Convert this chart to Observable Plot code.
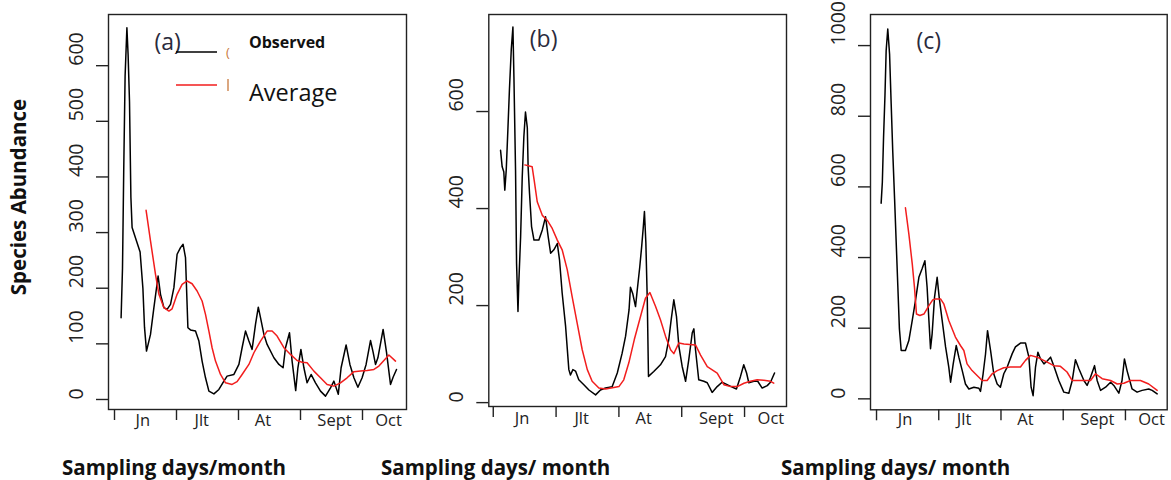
<!DOCTYPE html>
<html>
<head>
<meta charset="utf-8">
<script src="https://cdn.jsdelivr.net/npm/d3@7"></script>
<script src="https://cdn.jsdelivr.net/npm/@observablehq/plot@0.6"></script>
<style>
  body { margin: 0; background: #fff; }
  #wrap { position: relative; width: 1171px; height: 480px; overflow: hidden; font-family: "Open Sans", sans-serif; color: #111; }
  .panel { position: absolute; top: 0; }
  .xt { position: absolute; top: 457px; font-weight: bold; font-size: 20.5px; line-height: 21px; white-space: nowrap; }
  #yt { position: absolute; left: 18px; top: 197px; transform: translate(-50%, -50%) rotate(-90deg); font-weight: bold; font-size: 20.5px; white-space: nowrap; }
  #legend { position: absolute; left: 0; top: 0; }
</style>
</head>
<body>
<div id="wrap">
  <div id="yt">Species Abundance</div>
  <div class="panel" id="pa" style="left:50px"></div>
  <div class="panel" id="pb" style="left:430px"></div>
  <div class="panel" id="pc" style="left:812px"></div>
  <svg id="legend" width="420" height="120" font-family="'Open Sans', sans-serif">
    <line x1="176" y1="52" x2="217" y2="52" stroke="#000" stroke-width="1.5"/>
    <line x1="176" y1="85" x2="217" y2="85" stroke="#f21d1d" stroke-width="1.5"/>
    <text x="226" y="57" font-size="13" fill="#c8783c">(</text>
    <line x1="228" y1="79" x2="228" y2="91" stroke="#c8783c" stroke-width="1.3"/>
    <text x="249" y="48" font-size="16" font-weight="bold" fill="#111">Observed</text>
    <text x="249" y="101" font-size="23.5" fill="#111">Average</text>
  </svg>
  <div class="xt" style="left:62px">Sampling days/month</div>
  <div class="xt" style="left:381px">Sampling days/ month</div>
  <div class="xt" style="left:781px">Sampling days/ month</div>
</div>
<script>
// ---- month axis (x in days since 1 June) ----
const monthNames = ["Jn", "Jlt", "At", "Sept", "Oct"];
const monthTicks = [0, 31, 62, 93, 124];
const monthLabelDays = [14.2, 43.6, 74.2, 110, 137];

// ---- y ticks per panel ----
const yTicksA = [0, 100, 200, 300, 400, 500, 600];
const yTicksB = [0, 200, 400, 600];
const yTicksC = [0, 200, 400, 600, 800, 1000];

// ---- panel (a): [day, abundance] ----
const observedA = [[3.3,147],[4.0,236],[4.6,408],[5.3,581],[6.2,668],[6.8,620],[7.5,536],[8.2,363],[8.8,309],[11,285],[12.8,265],[14.2,200],[15,130],[16,87],[18,117],[19.7,165],[21.8,222],[23,189],[24.7,165],[26.3,162],[28,171],[29.7,201],[31.3,261],[33,273],[34.3,279],[35.5,255],[36.7,129],[38,125],[40.5,123],[42.2,105],[43.8,69],[45.5,39],[47.2,15],[49.7,10],[52.2,18],[54.7,33],[56.3,42],[59.7,45],[62.2,63],[63.8,93],[65.5,123],[67.2,105],[68.8,90],[70.5,135],[71.9,166],[73,147],[74.7,117],[76.3,99],[79.7,75],[82.2,63],[84.3,57],[85.5,93],[87.5,120],[88.8,69],[90.6,16],[91.7,57],[93.2,90],[94.7,57],[96.3,30],[98.3,45],[100.5,30],[103,15],[105.5,6],[108,21],[109.7,33],[111.9,9.5],[113.3,57],[115.8,98],[117.7,63],[119.7,39],[121.7,22],[123.8,39],[125.8,63],[128,106],[129.3,85],[130.5,63],[131.7,75],[134.3,126],[136,85],[138,27],[139.3,40],[141,54]];
const averageA = [[15.8,340],[18,285],[20.5,225],[22.2,189],[24.7,165],[27.2,159],[28.8,163],[31.3,189],[33.8,207],[36.3,213],[38.8,208],[41.3,195],[43.8,177],[45.5,153],[47.2,123],[48.8,93],[50.5,69],[53,45],[55.5,30],[58.8,27],[61.3,32],[63.8,45],[67.2,63],[69.7,84],[73,105],[76.3,123],[78.8,123],[81.3,114],[84.7,93],[88,81],[91.3,70],[93.8,67],[96.3,66],[99.7,51],[103,39],[106.3,27],[109.7,24],[113,30],[116.3,39],[119.7,50],[123,51],[126.3,52],[129.7,54],[132.2,60],[134.7,70],[137.2,80],[140.5,69]];

// ---- panel (b) ----
const observedB = [[3.6,520],[4.4,486],[5.2,476],[5.7,438],[6.4,479],[7.2,561],[8,647],[8.9,729],[9.7,774],[10.2,671],[11,479],[11.5,287],[12.2,188],[12.6,246],[13.5,342],[14.3,465],[15.1,548],[15.9,599],[16.8,567],[17.2,486],[17.9,431],[18.9,363],[20.1,335],[22.5,335],[24.2,356],[25.8,383],[27.1,342],[28.3,308],[29.9,315],[31.6,328],[32.7,294],[34,226],[35.7,157],[37.3,68],[38.1,57],[39.3,68],[40.6,65],[42.2,47],[44.7,37],[47.2,26],[50.5,16],[52.9,26],[55.4,30],[58.7,33],[61.2,61],[63.6,102],[65.3,137],[67,191],[67.7,238],[68.8,225],[70.2,198],[71,230],[72.3,280],[73.2,320],[74,360],[74.6,394],[75.3,330],[76,212],[76.6,54],[79.2,64],[82.5,78],[85,95],[86.6,130],[87.8,171],[89.1,212],[90.4,178],[91.6,116],[93.2,75],[94.9,44],[96.5,89],[98.2,144],[99,152],[99.8,109],[101.4,47],[103.9,44],[105.6,41],[108,21],[110.5,33],[112.9,42],[115.4,37],[117.9,32],[120,28],[122,54],[123.6,78],[125,61],[126.1,41],[128.6,44],[130.5,44],[132.7,30],[135.2,35],[136.8,42],[138.8,61]];
const averageB = [[15.6,490],[19.2,486],[20.2,458],[21.7,414],[24.2,386],[26.6,376],[29.1,359],[31.6,335],[34,315],[36.5,274],[38.9,219],[41.4,164],[43.9,109],[46.4,68],[48.8,44],[52.1,30],[55.4,28],[59.5,31],[62,33],[64.4,47],[66.9,82],[69.6,130],[72.7,178],[75.1,215],[77.3,227],[80.1,198],[82.5,171],[85,137],[87.5,109],[89.1,101],[91.6,123],[94.1,121],[97,120],[99.8,119],[102.3,98],[105.6,74],[110.5,61],[113.8,37],[117.1,33],[120.4,33],[123.7,40],[126.9,44],[130.2,47],[133.5,46],[136.8,44],[138.4,40]];

// ---- panel (c) ----
const observedC = [[2.3,554],[2.9,613],[3.5,740],[4.2,858],[4.8,986],[5.6,1047],[6.5,976],[7.3,835],[8.1,698],[9,566],[9.8,443],[10.6,321],[11.4,198],[12.3,137],[14.4,137],[16.1,165],[17.8,222],[19.4,278],[21.1,344],[22.7,368],[24.1,391],[25.2,316],[26.1,222],[26.9,142],[27.7,184],[28.9,288],[30.2,344],[31.2,288],[32.7,222],[34.4,147],[36,90],[36.9,47],[38.2,99],[39.7,151],[41,118],[42.7,80],[44.3,42],[46,28],[48.5,33],[51,30],[51.8,21],[53.1,71],[54.3,127],[55.3,193],[56.8,137],[58.4,71],[60.1,42],[61.7,33],[63.4,71],[65.1,90],[67.6,128],[69.2,147],[71.7,158],[74.2,158],[75.9,118],[77,33],[78,9],[79.2,90],[80.4,132],[81.7,113],[83.4,99],[85,107],[86.7,118],[88.3,94],[90.8,52],[93.3,19],[95.8,16],[97.5,52],[99.1,111],[100.8,85],[103.3,52],[104.9,38],[106.6,61],[108.6,94],[109.9,52],[111.6,24],[114.1,33],[116.6,47],[118.2,38],[120.7,16],[122.3,52],[123.5,113],[124.8,80],[127.3,28],[129.8,19],[132.3,24],[135.6,28],[137.3,24],[139.8,14]];
const averageC = [[14.4,541],[16.1,467],[17.8,382],[18.9,316],[19.9,240],[21.6,236],[23.6,240],[26.1,264],[28,280],[29.4,283],[31.9,283],[33.5,269],[36,222],[39.3,175],[41.8,151],[43.5,137],[45.1,99],[47.6,80],[50.1,66],[52.6,52],[55.1,52],[57.6,71],[60.1,80],[63.4,88],[66.7,90],[71.7,90],[74.2,109],[76.7,123],[80,118],[85,104],[88.3,94],[91.6,92],[94.9,76],[97.4,52],[103.3,52],[106.6,52],[109.1,71],[112.4,57],[116.6,52],[119.9,42],[123.2,44],[126.5,52],[131.5,52],[135.6,42],[139.8,24]];

const FONT = '"Open Sans", sans-serif';

function panel(cfg) {
  const obs = cfg.obs.map(([d, v]) => ({d, v}));
  const avg = cfg.avg.map(([d, v]) => ({d, v}));
  return Plot.plot({
    width: cfg.width, height: 440,
    marginLeft: cfg.mL, marginRight: cfg.mR, marginTop: 14, marginBottom: cfg.mB,
    x: {domain: cfg.xDomain},
    y: {domain: cfg.yDomain},
    style: {fontFamily: FONT, background: "transparent", overflow: "visible", color: "#222"},
    marks: [
      Plot.axisY({ticks: cfg.yTicks, tickSize: 12, tickFormat: () => "", label: null, strokeWidth: 1.4}),
      Plot.text(cfg.yTicks, {y: d => d, text: d => String(d), frameAnchor: "left", dx: -32, rotate: -90, fontSize: 19.5, fill: "#222"}),
      Plot.axisX({ticks: monthTicks, tickSize: 11, tickFormat: () => "", label: null, strokeWidth: 1.4}),
      Plot.text(monthNames, {x: (d, i) => monthLabelDays[i], text: d => d, frameAnchor: "bottom", dy: cfg.mDy, fontSize: 16.5, fill: "#222"}),
      Plot.line(obs, {x: "d", y: "v", stroke: "#000", strokeWidth: 1.5}),
      Plot.line(avg, {x: "d", y: "v", stroke: "#f21d1d", strokeWidth: 1.5}),
      Plot.frame({stroke: "#222", strokeWidth: 1.4}),
      Plot.text([cfg.letter], {frameAnchor: "top-left", dx: cfg.lx, dy: cfg.ly, textAnchor: "start", fontSize: 23, fill: "#2a2a3c"})
    ]
  });
}

document.getElementById("pa").append(panel({
  obs: observedA, avg: averageA, yTicks: yTicksA, yDomain: [-18, 692], xDomain: [-3, 146],
  width: 360, mL: 58, mR: 4, mB: 31, mDy: 16, letter: "(a)", lx: 46, ly: 19
}));
document.getElementById("pb").append(panel({
  obs: observedB, avg: averageB, yTicks: yTicksB, yDomain: [-8, 800], xDomain: [-2.2, 144.7],
  width: 360, mL: 58.3, mR: 4, mB: 34, mDy: 17, letter: "(b)", lx: 41, ly: 16
}));
document.getElementById("pc").append(panel({
  obs: observedC, avg: averageC, yTicks: yTicksC, yDomain: [-31, 1088], xDomain: [-3, 144.8],
  width: 359, mL: 58, mR: 4.3, mB: 30.7, mDy: 15, letter: "(c)", lx: 46, ly: 18
}));
</script>
</body>
</html>
